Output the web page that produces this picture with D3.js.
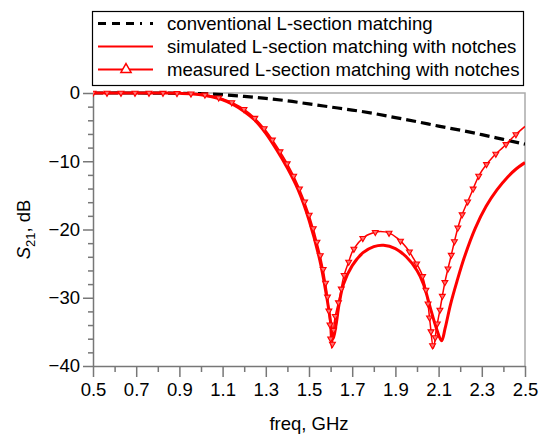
<!DOCTYPE html>
<html>
<head>
<meta charset="utf-8">
<script src="https://cdn.jsdelivr.net/npm/d3@7"></script>
<style>
  body { margin: 0; background: #fff; }
  text { font-family: 'Liberation Sans', Arial, sans-serif; }
</style>
</head>
<body>
<script>
// conventional L-section matching (dashed black)
const convFreq = [0.5, 0.7, 0.9, 1.0, 1.1, 1.2, 1.3, 1.4, 1.5, 1.6, 1.7, 1.8, 1.9, 2.0, 2.1, 2.2, 2.3, 2.4, 2.5]
const convDb = [0, 0, -0.05, -0.1, -0.25, -0.5, -0.8, -1.15, -1.6, -2.05, -2.5, -3.0, -3.6, -4.2, -4.85, -5.45, -6.1, -6.8, -7.5]

// simulated L-section matching with notches (thick red)
const simFreq = [0.5, 0.6, 0.7, 0.8, 0.9, 0.95, 1.0, 1.05, 1.1, 1.15, 1.2, 1.25, 1.3, 1.35, 1.4, 1.45, 1.5, 1.55, 1.58, 1.6, 1.612, 1.625, 1.64, 1.66, 1.7, 1.75, 1.8, 1.845, 1.9, 1.95, 2.0, 2.03, 2.06, 2.09, 2.114, 2.13, 2.155, 2.185, 2.22, 2.27, 2.32, 2.37, 2.42, 2.46, 2.5]
const simDb = [0, 0, 0, 0, -0.05, -0.1, -0.25, -0.55, -1.0, -1.7, -2.7, -4.0, -5.9, -8.3, -11.0, -14.2, -18.6, -24.5, -29.5, -33.5, -36.0, -34.0, -30.8, -28.0, -25.3, -23.4, -22.5, -22.3, -22.8, -24.0, -26.0, -28.0, -31.3, -34.5, -36.3, -34.5, -31.0, -27.6, -24.0, -19.8, -16.6, -14.2, -12.3, -11.1, -10.2]

// measured L-section matching with notches (thin red with markers)
const measFreq = [0.5, 0.6, 0.7, 0.8, 0.9, 0.95, 1.0, 1.05, 1.1, 1.15, 1.2, 1.25, 1.3, 1.35, 1.4, 1.45, 1.5, 1.55, 1.58, 1.595, 1.605, 1.62, 1.643, 1.66, 1.682, 1.705, 1.76, 1.806, 1.83, 1.87, 1.91, 1.95, 1.983, 2.022, 2.045, 2.06, 2.076, 2.09, 2.106, 2.13, 2.153, 2.2, 2.25, 2.292, 2.35, 2.4, 2.45, 2.5]
const measDb = [0, 0, 0, 0, -0.05, -0.1, -0.2, -0.45, -0.85, -1.5, -2.4, -3.7, -5.5, -7.8, -10.4, -13.6, -17.8, -23.5, -28.5, -33.0, -37.4, -33.0, -29.8, -27.0, -24.9, -23.0, -21.0, -20.4, -20.3, -20.5, -21.3, -22.6, -24.2, -26.5, -29.5, -33.5, -37.4, -34.5, -31.8, -27.6, -24.5, -18.6, -14.8, -11.8, -9.4, -7.9, -6.3, -4.9]

const xTicks = [0.5, 0.7, 0.9, 1.1, 1.3, 1.5, 1.7, 1.9, 2.1, 2.3, 2.5]
const yTicks = [0, -10, -20, -30, -40]
const legendLabels = ['conventional L-section matching', 'simulated L-section matching with notches', 'measured L-section matching with notches']

const width = 543
const height = 437
const margin = { top: 93, right: 18, bottom: 71, left: 93 }
const red = '#ff0000'
const font = "'Liberation Sans', Arial, sans-serif"

const svg = d3.select('body').append('svg')
  .attr('width', width)
  .attr('height', height)

const x = d3.scaleLinear()
  .domain([0.5, 2.5])
  .range([margin.left, width - margin.right])

const y = d3.scaleLinear()
  .domain([-40, 0])
  .range([height - margin.bottom, margin.top])

svg.append('defs').append('clipPath')
  .attr('id', 'plot')
  .append('rect')
  .attr('x', margin.left)
  .attr('y', margin.top - 4)
  .attr('width', x(2.5) - x(0.5))
  .attr('height', y(-40) - y(0) + 4)

// frame (top and right, light gray)
svg.append('path')
  .attr('d', `M${x(0.5)},${y(0)}H${x(2.5)}V${y(-40)}`)
  .attr('fill', 'none')
  .attr('stroke', '#aaa')
  .attr('stroke-width', 1.5)

// minor ticks
const yMinor = d3.range(0, -42, -2).filter(d => d % 10 !== 0)
const xMinor = d3.range(6, 25, 2).map(d => d / 10)

svg.append('g')
  .attr('transform', `translate(${margin.left},0)`)
  .call(d3.axisLeft(y).tickValues(yMinor).tickSize(5).tickFormat(''))
  .call(g => g.select('.domain').remove())
  .call(g => g.selectAll('line').attr('stroke', '#777').attr('stroke-width', 1.5))

svg.append('g')
  .attr('transform', `translate(0,${y(-40)})`)
  .call(d3.axisBottom(x).tickValues(xMinor).tickSize(6).tickFormat(''))
  .call(g => g.select('.domain').remove())
  .call(g => g.selectAll('line').attr('stroke', '#777').attr('stroke-width', 1.5))

// major axes
svg.append('g')
  .attr('transform', `translate(${margin.left},0)`)
  .call(d3.axisLeft(y).tickValues(yTicks).tickSize(10).tickPadding(3).tickSizeOuter(0))
  .call(g => g.select('.domain').attr('stroke', '#777').attr('stroke-width', 1.5))
  .call(g => g.selectAll('line').attr('stroke', '#777').attr('stroke-width', 1.5))
  .call(g => g.selectAll('text').attr('font-size', 18.5).attr('fill', '#000').style('font-family', font))

svg.append('g')
  .attr('transform', `translate(0,${y(-40)})`)
  .call(d3.axisBottom(x).tickValues(xTicks).tickSize(11).tickPadding(6).tickSizeOuter(0).tickFormat(d3.format('.1f')))
  .call(g => g.select('.domain').attr('stroke', '#777').attr('stroke-width', 1.5))
  .call(g => g.selectAll('line').attr('stroke', '#777').attr('stroke-width', 1.5))
  .call(g => g.selectAll('text').attr('font-size', 18.5).attr('fill', '#000').style('font-family', font))

// axis titles
svg.append('text')
  .attr('x', (x(0.5) + x(2.5)) / 2)
  .attr('y', 430)
  .attr('text-anchor', 'middle')
  .attr('font-size', 18.5)
  .text('freq, GHz')

const yLabel = svg.append('text')
  .attr('transform', `translate(30,${(y(0) + y(-40)) / 2}) rotate(-90)`)
  .attr('text-anchor', 'middle')
  .attr('font-size', 18.5)
yLabel.append('tspan').attr('font-style', 'italic').text('S')
yLabel.append('tspan').attr('font-size', 13).attr('dy', 5).text('21')
yLabel.append('tspan').attr('dy', -5).text(', dB')

// curves
const line = d3.line()
  .x(d => x(d[0]))
  .y(d => y(d[1]))
  .curve(d3.curveCatmullRom.alpha(0.5))

const plot = svg.append('g').attr('clip-path', 'url(#plot)')

plot.append('path')
  .datum(d3.zip(convFreq, convDb))
  .attr('d', line)
  .attr('fill', 'none')
  .attr('stroke', '#000')
  .attr('stroke-width', 3.2)
  .attr('stroke-dasharray', '10,5')

plot.append('path')
  .datum(d3.zip(simFreq, simDb))
  .attr('d', line)
  .attr('fill', 'none')
  .attr('stroke', red)
  .attr('stroke-width', 3)

const measPath = plot.append('path')
  .datum(d3.zip(measFreq, measDb))
  .attr('d', line)
  .attr('fill', 'none')
  .attr('stroke', red)
  .attr('stroke-width', 1.5)

// markers spaced along the measured curve
const node = measPath.node()
const total = node.getTotalLength()
const step = 14
const marks = d3.range(0, total, step).map(l => node.getPointAtLength(l))

const tri = d3.symbol().type(d3.symbolTriangle).size(15)

plot.selectAll('.mark')
  .data(marks)
  .join('path')
  .attr('class', 'mark')
  .attr('d', tri)
  .attr('transform', d => `translate(${d.x},${d.y}) rotate(180)`)
  .attr('fill', '#ff7070')
  .attr('stroke', red)
  .attr('stroke-width', 1.1)

// legend
const legend = svg.append('g')
legend.append('rect')
  .attr('x', 92.5)
  .attr('y', 11.5)
  .attr('width', 431)
  .attr('height', 74)
  .attr('fill', '#fff')
  .attr('stroke', '#000')
  .attr('stroke-width', 1.2)

const rows = legend.selectAll('g')
  .data(legendLabels)
  .join('g')
  .attr('transform', (d, i) => `translate(0,${23.5 + i * 23})`)

rows.append('line')
  .attr('x1', 98)
  .attr('x2', 153)
  .attr('stroke', (d, i) => i === 0 ? '#000' : red)
  .attr('stroke-width', (d, i) => i === 0 ? 3 : 2)
  .attr('stroke-dasharray', (d, i) => i === 0 ? '8,6,8,6,8,6,2' : null)

rows.filter((d, i) => i === 2)
  .append('path')
  .attr('d', d3.symbol().type(d3.symbolTriangle).size(45))
  .attr('transform', 'translate(126,0)')
  .attr('fill', '#fff')
  .attr('stroke', red)
  .attr('stroke-width', 1.5)

rows.append('text')
  .attr('x', 167)
  .attr('dy', '0.35em')
  .attr('font-size', 18.6)
  .text(d => d)
</script>
</body>
</html>
